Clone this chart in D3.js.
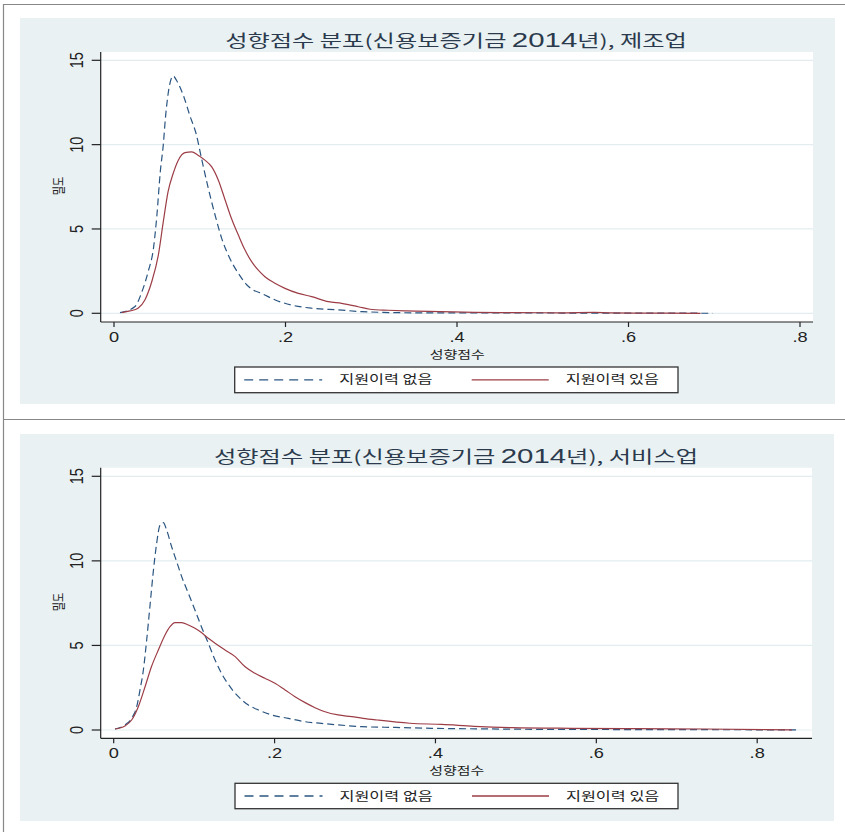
<!DOCTYPE html>
<html><head><meta charset="utf-8">
<script src="https://cdn.jsdelivr.net/npm/d3@7"></script>
<style>body{margin:0;background:#fff}svg{display:block}</style>
</head><body>
<script>
// ---- data ----
const panelTitles = ["제조업", "서비스업"];
const titlePrefix = "성향점수 분포(신용보증기금 ";
const titleYear = "2014";
const titleSuffix = "년), ";
const xTicks = [0, 0.2, 0.4, 0.6, 0.8];
const xTickLabels = ["0", ".2", ".4", ".6", ".8"];
const yTicks = [0, 5, 10, 15];
const yTickLabels = ["0", "5", "10", "15"];
const xTitle = "성향점수";
const yTitle = "밀도";
const seriesNames = ["지원이력 없음", "지원이력 있음"];

// 제조업, 지원이력 없음 (x, density)
const mfgNo = [[0.007,0.04],[0.0245,0.4],[0.032,1.2],[0.040,2.5],[0.046,3.85],[0.050,5.8],[0.054,8.4],[0.0575,10.0],[0.060,11.6],[0.064,13.3],[0.069,14.07],[0.073,13.8],[0.081,12.9],[0.0886,11.7],[0.096,10.6],[0.102,9.2],[0.110,7.4],[0.118,5.8],[0.1256,4.44],[0.135,3.26],[0.145,2.37],[0.155,1.68],[0.1625,1.38],[0.172,1.18],[0.188,0.79],[0.207,0.49],[0.2305,0.30],[0.2616,0.2],[0.289,0.1],[0.31,0.06],[0.35,0.03],[0.40,0.03],[0.45,0.02],[0.50,0.02],[0.55,0.01],[0.60,0.01],[0.65,0.01],[0.698,0.0]];
// 제조업, 지원이력 있음
const mfgYes = [[0.009,0.04],[0.0187,0.14],[0.028,0.3],[0.036,0.79],[0.044,1.87],[0.0517,3.45],[0.0575,5.43],[0.063,7.2],[0.069,8.29],[0.075,9.08],[0.0828,9.53],[0.0906,9.57],[0.098,9.37],[0.106,9.08],[0.114,8.68],[0.1217,7.89],[0.129,6.81],[0.137,5.62],[0.145,4.64],[0.1528,3.75],[0.1605,3.06],[0.168,2.57],[0.176,2.17],[0.1877,1.78],[0.1994,1.48],[0.215,1.18],[0.2305,0.99],[0.25,0.69],[0.2655,0.59],[0.285,0.39],[0.2985,0.24],[0.32,0.18],[0.341,0.14],[0.38,0.1],[0.42,0.06],[0.47,0.04],[0.52,0.03],[0.56,0.05],[0.58,0.02],[0.63,0.01],[0.684,0.0]];
// 서비스업, 지원이력 없음
const svcNo = [[0.0016,0.06],[0.014,0.3],[0.0223,0.69],[0.0286,1.38],[0.0327,2.37],[0.0369,3.55],[0.041,5.32],[0.045,7.29],[0.049,9.26],[0.0534,11.04],[0.0576,12.12],[0.0617,12.26],[0.0658,11.83],[0.072,10.84],[0.0783,9.95],[0.0845,9.07],[0.0928,8.08],[0.101,7.1],[0.109,6.11],[0.1176,5.13],[0.126,4.14],[0.134,3.35],[0.1446,2.56],[0.155,1.97],[0.1674,1.48],[0.18,1.18],[0.1964,0.89],[0.217,0.69],[0.2378,0.49],[0.2585,0.39],[0.279,0.3],[0.308,0.2],[0.35,0.15],[0.395,0.1],[0.45,0.07],[0.53,0.04],[0.60,0.03],[0.70,0.02],[0.85,0.01]];
// 서비스업, 지원이력 있음
const svcYes = [[0.0016,0.06],[0.014,0.24],[0.0223,0.59],[0.0306,1.38],[0.039,2.56],[0.047,3.75],[0.0555,4.73],[0.0638,5.62],[0.07,6.11],[0.0762,6.35],[0.0845,6.35],[0.0928,6.21],[0.101,6.01],[0.109,5.76],[0.1176,5.42],[0.126,5.13],[0.1384,4.73],[0.151,4.34],[0.163,3.75],[0.1757,3.35],[0.188,3.06],[0.2005,2.76],[0.213,2.37],[0.2254,1.97],[0.238,1.62],[0.2503,1.32],[0.2627,1.08],[0.279,0.89],[0.2958,0.79],[0.31,0.69],[0.3276,0.59],[0.368,0.4],[0.408,0.33],[0.448,0.22],[0.495,0.14],[0.569,0.1],[0.65,0.08],[0.736,0.06],[0.843,0.01]];

const panelData = [[mfgNo, mfgYes], [svcNo, svcYes]];

// ---- layout ----
const W = 845, H = 832;
const S = 1.3; // horizontal text stretch
const korFont = "'Noto Sans CJK KR', 'Noto Sans', sans-serif";
const numFont = "'Liberation Sans', Arial, sans-serif";
const colors = ["#2a5580", "#9c3d46"];
const panels = [
  {bg: [20, 18, 835, 404], plot: [100.7, 52, 813, 322], xr: [114, 800], yr: [313.3, 60.3], titleY: 47, legend: [234.7, 367, 678, 392.7]},
  {bg: [20, 434, 834, 821], plot: [100.7, 467.7, 812, 738.3], xr: [113.7, 757.2], yr: [730, 476.3], titleY: 462.5, legend: [235, 783.3, 678, 808.7]}
];

const svg = d3.select("body").append("svg").attr("width", W).attr("height", H);
svg.append("rect").attr("width", W).attr("height", H).attr("fill", "#fff");

// frame lines
svg.append("line").attr("x1", 3).attr("x2", W).attr("y1", 4.5).attr("y2", 4.5).attr("stroke", "#888").attr("stroke-width", 1.2);
svg.append("line").attr("x1", 3.5).attr("x2", 3.5).attr("y1", 4).attr("y2", H).attr("stroke", "#888").attr("stroke-width", 1.2);
svg.append("line").attr("x1", 3).attr("x2", W).attr("y1", 419.5).attr("y2", 419.5).attr("stroke", "#888").attr("stroke-width", 1.2);

panels.forEach((p, i) => {
  const g = svg.append("g");
  const [bx0, by0, bx1, by1] = p.bg;
  g.append("rect").attr("x", bx0).attr("y", by0).attr("width", bx1 - bx0).attr("height", by1 - by0).attr("fill", "#e9f1f3");
  const [px0, py0, px1, py1] = p.plot;
  g.append("rect").attr("x", px0).attr("y", py0).attr("width", px1 - px0).attr("height", py1 - py0).attr("fill", "#fff");

  const x = d3.scaleLinear().domain([0, 0.8]).range(p.xr);
  const y = d3.scaleLinear().domain([0, 15]).range(p.yr);

  // gridlines
  g.selectAll(".grid").data(yTicks).enter().append("line")
    .attr("x1", px0).attr("x2", px1).attr("y1", d => y(d)).attr("y2", d => y(d))
    .attr("stroke", "#e3edf0").attr("stroke-width", 1.2);

  // curves
  const line = d3.line().x(d => x(d[0])).y(d => y(d[1])).curve(d3.curveMonotoneX);
  panelData[i].forEach((ser, k) => {
    g.append("path").datum(ser).attr("d", line).attr("fill", "none")
      .attr("stroke", colors[k]).attr("stroke-width", 1.2)
      .attr("stroke-dasharray", k === 0 ? "7,4" : null);
  });

  // axes lines
  g.append("line").attr("x1", px0).attr("x2", px0).attr("y1", py0).attr("y2", py1).attr("stroke", "#222").attr("stroke-width", 1.2);
  g.append("line").attr("x1", px0).attr("x2", px1).attr("y1", py1).attr("y2", py1).attr("stroke", "#222").attr("stroke-width", 1.2);

  // y ticks
  yTicks.forEach((t, j) => {
    g.append("line").attr("x1", px0 - 9).attr("x2", px0).attr("y1", y(t)).attr("y2", y(t)).attr("stroke", "#222").attr("stroke-width", 1.2);
    g.append("text").attr("transform", `translate(${px0 - 18},${y(t)}) scale(${S},1) rotate(-90)`)
      .attr("text-anchor", "middle").attr("font-family", numFont).attr("font-size", 14.5).attr("fill", "#222")
      .text(yTickLabels[j]);
  });
  // x ticks
  xTicks.forEach((t, j) => {
    g.append("line").attr("x1", x(t)).attr("x2", x(t)).attr("y1", py1).attr("y2", py1 + 5).attr("stroke", "#222").attr("stroke-width", 1.2);
    g.append("text").attr("transform", `translate(${x(t)},${py1 + 19.5}) scale(${S},1)`)
      .attr("text-anchor", "middle").attr("font-family", numFont).attr("font-size", 14).attr("fill", "#222")
      .text(xTickLabels[j]);
  });

  // axis titles
  g.append("text").attr("transform", `translate(${(px0 + px1) / 2 + 0.5},${py1 + 36.5}) scale(${S},1)`)
    .attr("text-anchor", "middle").attr("font-family", korFont).attr("font-size", 11.5).attr("fill", "#222")
    .text(xTitle);
  g.append("text").attr("transform", `translate(62.5,${(py0 + py1) / 2 - 1}) scale(${S},1) rotate(-90)`)
    .attr("text-anchor", "middle").attr("font-family", korFont).attr("font-size", 10).attr("fill", "#222")
    .text(yTitle);

  // title
  const tt = g.append("text").attr("transform", `translate(456,${p.titleY}) scale(1.47,1)`)
    .attr("text-anchor", "middle").attr("font-family", korFont).attr("font-size", 16.5).attr("fill", "#2b3a4c");
  tt.append("tspan").text(titlePrefix);
  tt.append("tspan").attr("font-family", numFont).attr("font-size", 20).text(titleYear);
  tt.append("tspan").text(titleSuffix + panelTitles[i]);

  // legend
  const [lx0, ly0, lx1, ly1] = p.legend;
  g.append("rect").attr("x", lx0).attr("y", ly0).attr("width", lx1 - lx0).attr("height", ly1 - ly0)
    .attr("fill", "#fff").attr("stroke", "#333").attr("stroke-width", 1.3);
  const ly = (ly0 + ly1) / 2;
  const samples = [[lx0 + 9.5, lx0 + 87.5, lx0 + 104.5], [lx0 + 237, lx0 + 314, lx0 + 331]];
  samples.forEach((s, k) => {
    g.append("line").attr("x1", s[0]).attr("x2", s[1]).attr("y1", ly).attr("y2", ly)
      .attr("stroke", colors[k]).attr("stroke-width", 1.3).attr("stroke-dasharray", k === 0 ? "9,6" : null);
    g.append("text").attr("transform", `translate(${s[2]},${ly + 4.5}) scale(${S},1)`)
      .attr("font-family", korFont).attr("font-size", 12.5).attr("fill", "#222")
      .text(seriesNames[k]);
  });
});
</script>
</body></html>
